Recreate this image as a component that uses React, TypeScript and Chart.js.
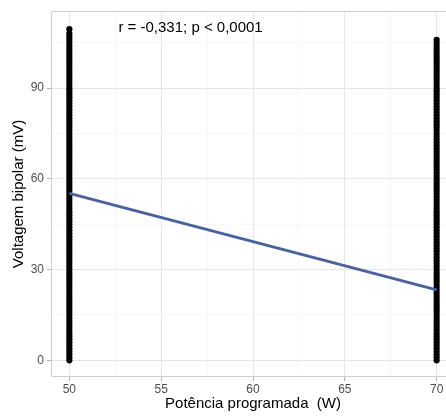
import React, { useEffect, useRef } from "react";
import { Chart, registerables } from "chart.js";

Chart.register(...registerables);

// Data
const groupA = 50;
const groupB = 70;
const voltageAt50 = [
  0, 1, 2, 3, 4, 5, 6, 7, 8, 9, 10, 11, 12, 13, 14, 15, 16, 17, 18, 19, 20,
  21, 22, 23, 24, 25, 26, 27, 28, 29, 30, 31, 32, 33, 34, 35, 36, 37, 38, 39,
  40, 41, 42, 43, 44, 45, 46, 47, 48, 49, 50, 51, 52, 53, 54, 55, 56, 57, 58,
  59, 60, 61, 62, 63, 64, 65, 66, 67, 68, 69, 70, 71, 72, 73, 74, 75, 76, 77,
  78, 79, 80, 81, 82, 83, 84, 85, 86, 87, 88, 89, 90, 91, 92, 93, 94, 95, 96,
  97, 98, 99, 100, 101, 102, 103, 104, 105, 106, 107, 108, 109.5,
];
const voltageAt70 = [
  0, 1, 2, 3, 4, 5, 6, 7, 8, 9, 10, 11, 12, 13, 14, 15, 16, 17, 18, 19, 20,
  21, 22, 23, 24, 25, 26, 27, 28, 29, 30, 31, 32, 33, 34, 35, 36, 37, 38, 39,
  40, 41, 42, 43, 44, 45, 46, 47, 48, 49, 50, 51, 52, 53, 54, 55, 56, 57, 58,
  59, 60, 61, 62, 63, 64, 65, 66, 67, 68, 69, 70, 71, 72, 73, 74, 75, 76, 77,
  78, 79, 80, 81, 82, 83, 84, 85, 86, 87, 88, 89, 90, 91, 92, 93, 94, 95, 96,
  97, 98, 99, 100, 101, 102, 103, 104, 105, 106,
];
const fitX = [50, 70];
const fitY = [55.2, 23.3];
const xMajorTicks = [50, 55, 60, 65, 70];
const xMinorTicks = [52.5, 57.5, 62.5, 67.5];
const yMajorTicks = [0, 30, 60, 90];
const yMinorTicks = [15, 45, 75, 105];
const annotationText = "r = -0,331; p < 0,0001";
const annotationX = 56.6;
const annotationY = 110;
const xTitle = "Potência programada  (W)";
const yTitle = "Voltagem bipolar (mV)";

const FONT = "'Liberation Sans', Arial, Helvetica, sans-serif";

export default function App() {
  const canvasRef = useRef<HTMLCanvasElement | null>(null);

  useEffect(() => {
    const canvas = canvasRef.current;
    if (!canvas) return;

    const panelPlugin = {
      id: "panelPlugin",
      beforeDatasetsDraw(chart: any) {
        const { ctx, chartArea } = chart;
        ctx.save();
        ctx.strokeStyle = "#cfcfcf";
        ctx.lineWidth = 1;
        ctx.strokeRect(
          chartArea.left + 0.5,
          chartArea.top + 0.5,
          chartArea.right - chartArea.left - 1,
          chartArea.bottom - chartArea.top - 1
        );
        ctx.restore();
      },
      afterDraw(chart: any) {
        const { ctx, scales } = chart;
        ctx.save();
        ctx.fillStyle = "#000000";
        ctx.font = `15px ${FONT}`;
        ctx.textAlign = "center";
        ctx.textBaseline = "middle";
        ctx.fillText(
          annotationText,
          scales.x.getPixelForValue(annotationX),
          scales.y.getPixelForValue(annotationY)
        );
        ctx.restore();
      },
    };

    const isMajorX = (v: number) => xMajorTicks.includes(v);
    const isMajorY = (v: number) => yMajorTicks.includes(v);

    const chart = new Chart(canvas, {
      type: "scatter",
      data: {
        datasets: [
          {
            type: "line",
            label: "fit",
            data: fitX.map((x, i) => ({ x, y: fitY[i] })),
            borderColor: "#4a62a0",
            borderWidth: 3,
            pointRadius: 0,
            fill: false,
          } as any,
          {
            label: "points",
            data: [
              ...voltageAt50.map((y) => ({ x: groupA, y })),
              ...voltageAt70.map((y) => ({ x: groupB, y })),
            ],
            backgroundColor: "#000000",
            borderWidth: 0,
            pointRadius: 3.1,
          },
        ],
      },
      options: {
        responsive: false,
        animation: false,
        layout: { padding: { top: 11, right: 0, left: 0, bottom: 0 } },
        plugins: {
          legend: { display: false },
          tooltip: { enabled: false },
        },
        scales: {
          x: {
            type: "linear",
            min: 49,
            max: 71,
            afterBuildTicks: (s: any) => {
              s.ticks = [...xMajorTicks, ...xMinorTicks]
                .sort((a, b) => a - b)
                .map((v) => ({ value: v }));
            },
            afterFit: (s: any) => {
              s.height = 40;
            },
            ticks: {
              autoSkip: false,
              maxRotation: 0,
              color: "#4d4d4d",
              font: { family: FONT, size: 12 },
              padding: 1,
              callback: (v: any) => (isMajorX(Number(v)) ? String(v) : ""),
            },
            grid: {
              color: (c: any) => (isMajorX(c.tick?.value) ? "#e6e6e6" : "#f2f2f2"),
              lineWidth: (c: any) => (isMajorX(c.tick?.value) ? 1 : 0.7),
              tickColor: (c: any) => (isMajorX(c.tick?.value) ? "#b3b3b3" : "rgba(0,0,0,0)"),
              tickLength: 4,
            },
            border: { display: false },
            title: {
              display: true,
              text: xTitle,
              color: "#000000",
              font: { family: FONT, size: 15 },
              padding: { top: 0, bottom: 4 },
            },
          },
          y: {
            type: "linear",
            min: -5.5,
            max: 115.5,
            afterBuildTicks: (s: any) => {
              s.ticks = [...yMajorTicks, ...yMinorTicks]
                .sort((a, b) => a - b)
                .map((v) => ({ value: v }));
            },
            afterFit: (s: any) => {
              s.width = 51;
            },
            ticks: {
              autoSkip: false,
              color: "#4d4d4d",
              font: { family: FONT, size: 12 },
              padding: 3,
              callback: (v: any) => (isMajorY(Number(v)) ? String(v) : ""),
            },
            grid: {
              color: (c: any) => (isMajorY(c.tick?.value) ? "#e6e6e6" : "#f2f2f2"),
              lineWidth: (c: any) => (isMajorY(c.tick?.value) ? 1 : 0.7),
              tickColor: (c: any) => (isMajorY(c.tick?.value) ? "#b3b3b3" : "rgba(0,0,0,0)"),
              tickLength: 4,
            },
            border: { display: false },
            title: {
              display: true,
              text: yTitle,
              color: "#000000",
              font: { family: FONT, size: 15 },
              padding: { top: 10, bottom: 0 },
            },
          },
        },
      },
      plugins: [panelPlugin],
    } as any);

    return () => chart.destroy();
  }, []);

  return (
    <div
      style={{
        position: "fixed",
        left: 0,
        top: 0,
        width: 446,
        height: 417,
        overflow: "hidden",
        background: "#ffffff",
      }}
    >
      <canvas ref={canvasRef} width={459} height={417} style={{ display: "block" }} />
    </div>
  );
}
